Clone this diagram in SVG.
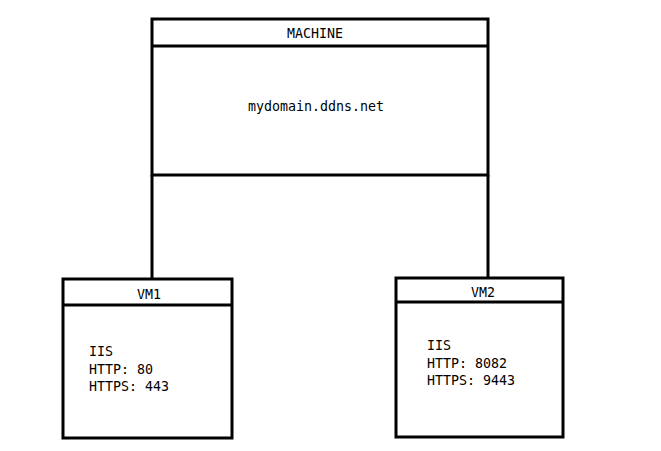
<svg xmlns="http://www.w3.org/2000/svg" width="661" height="451" viewBox="0 0 661 451">
<style>
.box{fill:#fff;stroke:#000;stroke-width:3}
.ln{stroke:#000;stroke-width:3;fill:none}
.t{font-family:"DejaVu Sans Mono","Liberation Mono",monospace;font-size:13.3px;fill:#000}
.c{text-anchor:middle}
</style>
<rect width="661" height="451" fill="#fff"/>
<g id="connectors">
<line class="ln" x1="152" y1="175" x2="152" y2="279"/>
<line class="ln" x1="488" y1="175" x2="488" y2="278"/>
</g>
<g id="machine">
<rect class="box" x="152" y="19" width="336" height="156"/>
<line class="ln" x1="152" y1="46" x2="488" y2="46"/>
<text class="t c" x="315" y="38">MACHINE</text>
<text class="t c" x="316" y="111">mydomain.ddns.net</text>
</g>
<g id="vm1">
<rect class="box" x="63" y="279" width="169" height="159"/>
<line class="ln" x1="63" y1="305" x2="232" y2="305"/>
<text class="t c" x="149" y="299">VM1</text>
<text class="t" x="89" y="356">IIS</text>
<text class="t" x="89" y="374">HTTP: 80</text>
<text class="t" x="89" y="391">HTTPS: 443</text>
</g>
<g id="vm2">
<rect class="box" x="396" y="278" width="167" height="159"/>
<line class="ln" x1="396" y1="302" x2="563" y2="302"/>
<text class="t c" x="483" y="297">VM2</text>
<text class="t" x="427" y="350">IIS</text>
<text class="t" x="427" y="368">HTTP: 8082</text>
<text class="t" x="427" y="385">HTTPS: 9443</text>
</g>
</svg>
